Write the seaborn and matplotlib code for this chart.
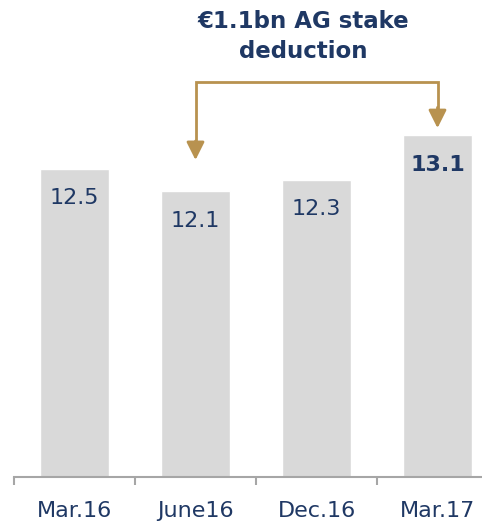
import matplotlib
matplotlib.use('Agg')
import matplotlib.pyplot as plt
import seaborn as sns
import pandas as pd

# Chart data
periods = ['Mar.16', 'June16', 'Dec.16', 'Mar.17']
values = [12.5, 12.1, 12.3, 13.1]
bold_flags = [False, False, False, True]
note_lines = ['€1.1bn AG stake', 'deduction']

navy = '#1F3864'
gold = '#B8924F'
bar_grey = '#D9D9D9'
axis_grey = '#A6A6A6'

sns.set_theme(style='white')
plt.rcParams['font.family'] = ['DejaVu Sans']

df = pd.DataFrame({'period': periods, 'value': values})

fig = plt.figure(figsize=(4.82, 5.25), dpi=100)
ax = fig.add_axes([14 / 482, (525 - 477) / 525, 468 / 482, 477 / 525])

sns.barplot(data=df, x='period', y='value', color=bar_grey, width=0.57,
            saturation=1, ax=ax)

ax.set_xlim(-0.5, -0.5 + 468 / 121)
ax.set_ylim(7, 7 + 477 / 56)

# axis styling
for side in ['top', 'right', 'left']:
    ax.spines[side].set_visible(False)
ax.spines['bottom'].set_color(axis_grey)
ax.spines['bottom'].set_linewidth(1.5)
ax.set_yticks([])
ax.set_xlabel('')
ax.set_ylabel('')
ax.set_xticks([i - 0.5 for i in range(4)], minor=False)
ax.set_xticklabels([])
ax.tick_params(axis='x', which='major', length=6, width=1.5, color=axis_grey,
               direction='out', bottom=True)
ax.set_xticks(range(4), minor=True)
ax.set_xticklabels(periods, minor=True)
ax.tick_params(axis='x', which='minor', length=0, pad=17, labelsize=16,
               labelcolor=navy)

# value labels inside bars
for i, (v, b) in enumerate(zip(values, bold_flags)):
    ax.annotate(f'{v:.1f}', (i, v), xytext=(0, -21), textcoords='offset points',
                ha='center', va='center', fontsize=16, color=navy,
                fontweight='bold' if b else 'normal')

# bracket arrow from June16 to Mar.17
top_y = 14.06
ax.plot([1, 1, 3, 3], [12.95, top_y, top_y, 13.5], color=gold, lw=2,
        solid_joinstyle='miter', clip_on=False)
ax.annotate('', xy=(1, 12.66), xytext=(1, 13.0),
            arrowprops=dict(arrowstyle='-|>,head_length=0.9,head_width=0.45',
                            color=gold, lw=2, shrinkA=0, shrinkB=0))
ax.annotate('', xy=(3, 13.23), xytext=(3, 13.6),
            arrowprops=dict(arrowstyle='-|>,head_length=0.9,head_width=0.45',
                            color=gold, lw=2, shrinkA=0, shrinkB=0))

fig.text(303 / 482, 1 - 22 / 525, note_lines[0], ha='center', va='center',
         fontsize=16.5, fontweight='bold', color=navy)
fig.text(303 / 482, 1 - 52 / 525, note_lines[1], ha='center', va='center',
         fontsize=16.5, fontweight='bold', color=navy)

fig.savefig('out.png', dpi=100)
